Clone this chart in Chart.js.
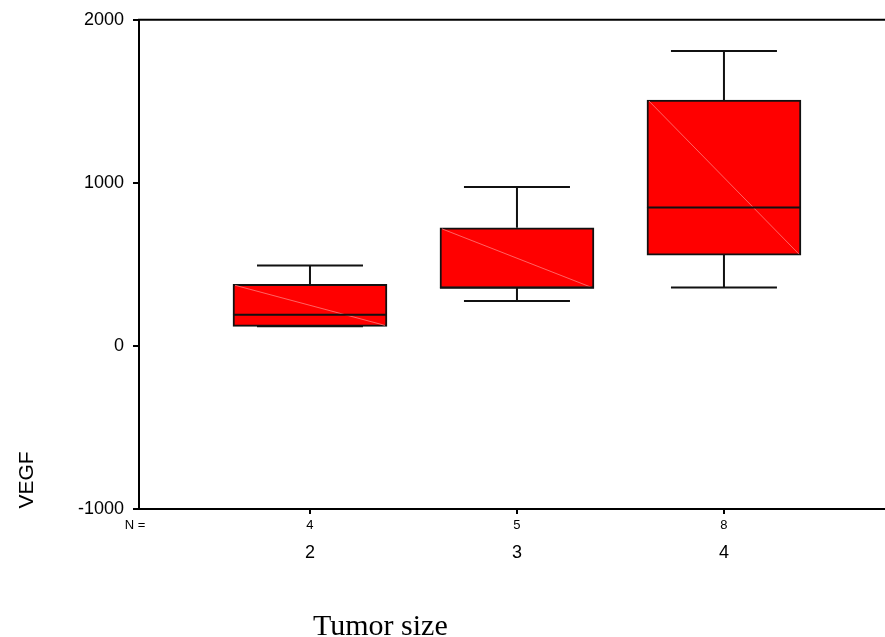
<!DOCTYPE html>
<html>
<head>
<meta charset="utf-8">
<script src="https://cdn.jsdelivr.net/npm/chart.js@4"></script>
<style>
  body { margin: 0; background: #fff; }
  canvas { display: block; }
</style>
</head>
<body>
<canvas id="boxChart" width="885" height="637"></canvas>
<script>
// VEGF by tumor size, SPSS style boxplot
const categories = [2, 3, 4];
const nCounts = [4, 5, 8];
const whiskerLow = [120, 275, 358];
const q1 = [120, 352, 557];
const median = [191, 358, 849];
const q3 = [378, 724, 1508];
const whiskerHigh = [494, 974, 1809];
const yTicks = [-1000, 0, 1000, 2000];

const ctx = document.getElementById("boxChart").getContext('2d');

// box bodies as floating bars
const boxData = categories.map((c, i) => ({ x: c, y: [q1[i], q3[i]] }));

// whiskers, caps, median, diagonal and the extra texts
const boxExtras = {
  id: 'boxExtras',
  afterDatasetsDraw(chart) {
    const c = chart.ctx;
    const xs = chart.scales.x;
    const ys = chart.scales.y;
    const area = chart.chartArea;
    const half = 77;
    const cap = 53;
    c.save();
    // top frame line
    c.strokeStyle = '#000';
    c.lineWidth = 2;
    c.beginPath();
    c.moveTo(area.left - 1, area.top);
    c.lineTo(area.right + 2, area.top);
    c.stroke();

    categories.forEach((cat, i) => {
      const x = xs.getPixelForValue(cat);
      const yMin = ys.getPixelForValue(whiskerLow[i]);
      const yQ1 = ys.getPixelForValue(q1[i]);
      const yMed = ys.getPixelForValue(median[i]);
      const yQ3 = ys.getPixelForValue(q3[i]);
      const yMax = ys.getPixelForValue(whiskerHigh[i]);

      // thin diagonal line in the box
      c.strokeStyle = 'rgba(255,110,110,0.9)';
      c.lineWidth = 1;
      c.beginPath();
      c.moveTo(x - half + 2, yQ3 + 1);
      c.lineTo(x + half - 2, yQ1 - 1);
      c.stroke();

      c.strokeStyle = '#111';
      c.lineWidth = 2;
      c.beginPath();
      // upper whisker
      c.moveTo(x, yQ3);
      c.lineTo(x, yMax);
      c.moveTo(x - cap, yMax);
      c.lineTo(x + cap, yMax);
      // lower whisker
      c.moveTo(x, yQ1);
      c.lineTo(x, yMin);
      c.moveTo(x - cap, yMin);
      c.lineTo(x + cap, yMin);
      // median
      c.moveTo(x - half, yMed);
      c.lineTo(x + half, yMed);
      c.stroke();
    });

    // N counts under the axis
    c.fillStyle = '#000';
    c.font = '13px "Liberation Sans", Arial, sans-serif';
    c.textAlign = 'center';
    c.textBaseline = 'middle';
    c.fillText('N =', 135, 525);
    categories.forEach((cat, i) => {
      c.fillText(String(nCounts[i]), xs.getPixelForValue(cat), 525);
    });

    // x title
    c.font = '30px "Liberation Serif", "Times New Roman", serif';
    c.textAlign = 'left';
    c.textBaseline = 'alphabetic';
    c.fillText('Tumor size', 313, 635);

    // y title, rotated
    c.translate(33, 480);
    c.rotate(-Math.PI / 2);
    c.font = '21px "Liberation Sans", Arial, sans-serif';
    c.textAlign = 'center';
    c.textBaseline = 'alphabetic';
    c.fillText('VEGF', 0, 0);
    c.restore();
  }
};

const chartConfig = {
  type: 'bar',
  data: {
    datasets: [{
      label: 'VEGF',
      data: boxData,
      backgroundColor: '#ff0000',
      borderColor: '#111',
      borderWidth: 2,
      borderSkipped: false,
      barThickness: 154,
    }],
  },
  options: {
    responsive: false,
    animation: false,
    layout: { padding: { top: 18, right: 0, left: 0, bottom: 0 } },
    plugins: {
      legend: { display: false },
      tooltip: { enabled: false },
    },
    scales: {
      x: {
        type: 'linear',
        min: 1.174,
        max: 4.778,
        offset: false,
        afterBuildTicks: (scale) => {
          scale.ticks = categories.map(v => ({ value: v }));
        },
        afterFit: (scale) => { scale.height = 128; },
        ticks: {
          color: '#000',
          padding: 28,
          font: { size: 18, family: '"Liberation Sans", Arial, sans-serif' },
          callback: (v) => String(v),
          maxRotation: 0,
        },
        grid: {
          offset: false,
          drawOnChartArea: false,
          color: '#000',
          lineWidth: 2,
          tickLength: 5,
        },
        border: { color: '#000', width: 2 },
      },
      y: {
        min: -1000,
        max: 2000,
        afterBuildTicks: (scale) => {
          scale.ticks = yTicks.map(v => ({ value: v }));
        },
        afterFit: (scale) => { scale.width = 139; },
        ticks: {
          color: '#000',
          padding: 9,
          font: { size: 18, family: '"Liberation Sans", Arial, sans-serif' },
          callback: (v) => String(v),
        },
        grid: {
          drawOnChartArea: false,
          color: '#000',
          lineWidth: 2,
          tickLength: 6,
        },
        border: { color: '#000', width: 2 },
      },
    },
  },
  plugins: [boxExtras],
};

let boxChart = new Chart(ctx, chartConfig);
</script>
</body>
</html>
